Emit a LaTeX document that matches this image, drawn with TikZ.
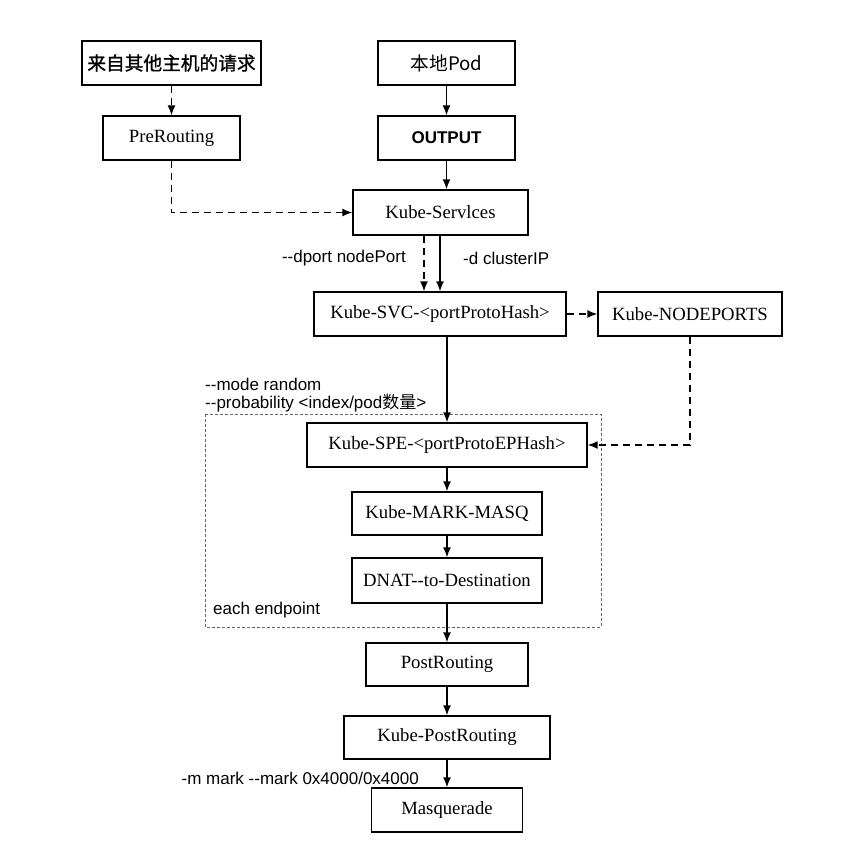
\documentclass[tikz,border=0pt]{standalone}
\usepackage{fontspec}
\setmainfont{Liberation Serif}
\newfontfamily\labsans{Liberation Sans}
\newfontfamily\cjk{Noto Sans CJK SC}
\newfontfamily\cjkb[FakeBold=1.2]{Noto Sans CJK SC}
\usetikzlibrary{arrows.meta}
\newcommand\dd{-\kern0pt-}
\begin{document}
\begin{tikzpicture}[x=1pt,y=-1pt,
  box/.style={draw=black,line width=1.3pt,inner sep=0pt,font=\fontsize{18.7}{22}\selectfont},
  lab/.style={inner sep=0pt,font=\labsans\fontsize{17}{20}\selectfont},
  arr/.style={line width=1.5pt,-{Latex[length=10pt,width=8pt]}},
  darr/.style={arr,dash pattern=on 7pt off 5pt},
  grp/.style={draw=black!60,line width=0.9pt,dash pattern=on 3pt off 2pt}]
\useasboundingbox (0,0) rectangle (845,863);
% group frame
\draw[grp] (205,414) rectangle (601,627);
% nodes
\node[box,minimum width=179pt,minimum height=44pt] (src) at (171.5,63) {\cjkb 来自其他主机的请求};
\node[box,minimum width=137pt,minimum height=44pt] (pod) at (446.5,63) {\cjk 本地Pod};
\node[box,minimum width=137pt,minimum height=44pt] (pre) at (171.5,138) {PreRouting};
\node[box,minimum width=137pt,minimum height=44pt] (out) at (446.5,138) {\labsans\bfseries\fontsize{17}{20}\selectfont OUTPUT};
\node[box,minimum width=175pt,minimum height=45pt] (svcs) at (440.5,212.5) {Kube-Servlces};
\node[box,minimum width=252pt,minimum height=44pt] (svc) at (440,314) {Kube-SVC-<portProtoHash>};
\node[box,minimum width=184pt,minimum height=44pt] (np) at (690,314) {Kube-NODEPORTS};
\node[box,minimum width=280pt,minimum height=44pt] (spe) at (447,445) {Kube-SPE-<portProtoEPHash>};
\node[box,minimum width=190pt,minimum height=43pt] (mark) at (447,513.5) {Kube-MARK-MASQ};
\node[box,minimum width=190pt,minimum height=45pt] (dnat) at (447,580.5) {DNAT\dd to-Destination};
\node[box,minimum width=162pt,minimum height=43pt] (post) at (447,664.5) {PostRouting};
\node[box,minimum width=206pt,minimum height=43pt] (kpost) at (447,737.5) {Kube-PostRouting};
\node[box,minimum width=151pt,minimum height=44pt] (masq) at (447,810) {Masquerade};
% labels
\node[lab,anchor=east] (l1) at (406,258) {\dd dport nodePort};
\node[lab,anchor=west] (l2) at (463,258) {-d clusterIP};
\node[lab,anchor=west] (l3) at (205,384) {\dd mode random};
\node[lab,anchor=west] (l4) at (205,403) {\dd probability <index/pod{\cjk 数量}>};
\node[lab,anchor=west] (l5) at (213,610) {each endpoint};
\node[lab,anchor=east] (l6) at (419,778) {-m mark \dd mark 0x4000/0x4000};
% connectors
\draw[darr] (src.south) -- (pre.north);
\draw[arr] (pod.south) -- (out.north);
\draw[arr] (out.south) -- (out.south |- svcs.north);
\draw[darr] (pre.south) |- (svcs.west);
\draw[darr] ([xshift=-16.5pt]svcs.south) -- ([xshift=-16.5pt]svcs.south |- svc.north);
\draw[arr] (svc.north |- svcs.south) -- (svc.north);
\draw[darr] (svc.east) -- (np.west);
\draw[arr] (spe.north |- svc.south) -- (spe.north);
\draw[darr] (np.south) |- (spe.east);
\draw[arr] (spe.south) -- (mark.north);
\draw[arr] (mark.south) -- (dnat.north);
\draw[arr] (dnat.south) -- (post.north);
\draw[arr] (post.south) -- (kpost.north);
\draw[arr] (kpost.south) -- (masq.north);
\end{tikzpicture}
\end{document}
